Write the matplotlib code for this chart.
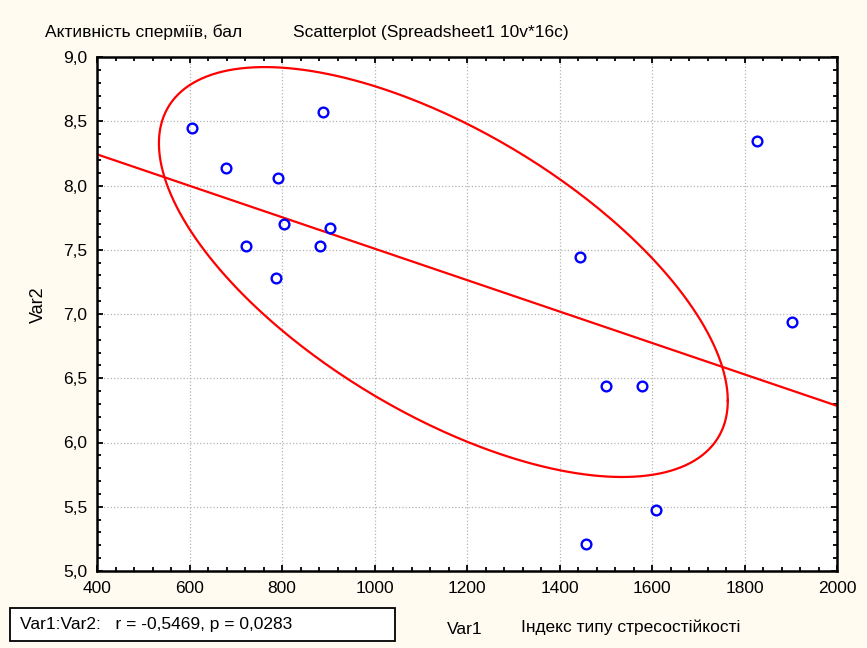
import numpy as np
import matplotlib
matplotlib.use('Agg')
import matplotlib.pyplot as plt
from matplotlib.ticker import MultipleLocator, FuncFormatter
from matplotlib.patches import Rectangle

plt.rcParams['font.family'] = ['Liberation Sans', 'DejaVu Sans']

# Var1 - Індекс типу стресостійкості, Var2 - Активність сперміїв
var1 = [605, 679, 791, 889, 804, 904, 722, 882, 787, 1444, 1501, 1578, 1609, 1457, 1827, 1903]
var2 = [8.45, 8.14, 8.06, 8.57, 7.70, 7.67, 7.53, 7.53, 7.28, 7.44, 6.44, 6.44, 5.475, 5.21, 8.35, 6.94]

# ellipse shape (half extents and tilt)
ell_half_w = 615
ell_half_h = 1.595
ell_r = -0.628

x = np.array(var1)
y = np.array(var2)

fig = plt.figure(figsize=(8.67, 6.48), dpi=100)
fig.patch.set_facecolor('#FFFBF0')
ax = fig.add_axes([97/867, 1-571/648, 740/867, 514/648])
ax.set_facecolor('white')

# regression line
k, b = np.polyfit(x, y, 1)
xl = np.array([400, 2000])
ax.plot(xl, k*xl + b, color='#FF0000', lw=1.6, zorder=2)

# ellipse
t = np.linspace(0, 2*np.pi, 400)
phi = np.arccos(ell_r)
ex = x.mean() + ell_half_w*np.cos(t)
ey = y.mean() + ell_half_h*np.cos(t - phi)
ax.plot(ex, ey, color='#FF0000', lw=1.6, zorder=2)

ax.plot(x, y, 'o', mfc='none', mec='#0000FF', ms=7, mew=1.7, zorder=3)

ax.set_xlim(400, 2000)
ax.set_ylim(5.0, 9.0)
ax.xaxis.set_major_locator(MultipleLocator(200))
ax.xaxis.set_minor_locator(MultipleLocator(40))
ax.yaxis.set_major_locator(MultipleLocator(0.5))
ax.yaxis.set_minor_locator(MultipleLocator(0.1))
ax.yaxis.set_major_formatter(FuncFormatter(lambda v, p: f'{v:.1f}'.replace('.', ',')))
ax.tick_params(which='both', direction='in', top=True, right=True, width=1.3, colors='black')
ax.tick_params(which='major', length=4.5, labelsize=12.5, pad=7)
ax.tick_params(which='minor', length=3)
ax.grid(True, which='major', ls=':', color='#B4B4B4', lw=0.9)
for s in ax.spines.values():
    s.set_linewidth(1.8)

fig.text(45/867, 1-32/648, 'Активність сперміїв, бал', fontsize=12.5, va='center')
fig.text(293/867, 1-32/648, 'Scatterplot (Spreadsheet1 10v*16c)', fontsize=12.5, va='center')
fig.text(38/867, 1-305/648, 'Var2', fontsize=13, rotation=90, va='center', ha='center')
fig.text(447/867, 1-629/648, 'Var1', fontsize=12.5, va='center')
fig.text(521/867, 1-627/648, 'Індекс типу стресостійкості', fontsize=12.5, va='center')

fig.patches.append(Rectangle((10/867, 1-641/648), 385/867, 33/648, transform=fig.transFigure,
                             facecolor='white', edgecolor='black', lw=1.3))
fig.text(20/867, 1-624/648, 'Var1:Var2:   r = -0,5469, p = 0,0283', fontsize=12.5, va='center')

fig.savefig('out.png', dpi=100, facecolor=fig.get_facecolor())
